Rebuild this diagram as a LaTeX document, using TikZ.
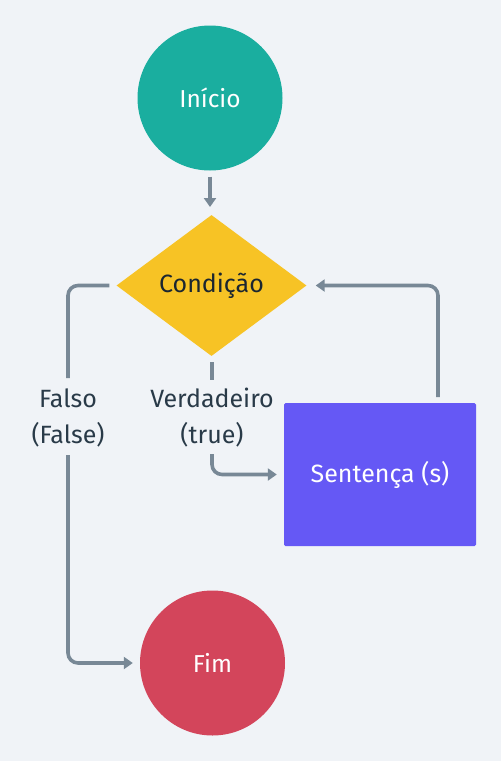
\documentclass[tikz,border=0pt]{standalone}
\usepackage{fontspec}
\setmainfont{Fira Sans}
\usetikzlibrary{shapes.geometric,arrows.meta}
\definecolor{bg}{HTML}{F0F3F7}
\definecolor{cteal}{HTML}{1AAE9F}
\definecolor{cyellow}{HTML}{F7C325}
\definecolor{cpurple}{HTML}{6558F5}
\definecolor{cred}{HTML}{D3455B}
\definecolor{cline}{HTML}{788896}
\definecolor{ctext}{HTML}{1B2630}
\definecolor{clabel}{HTML}{293A48}
\tikzset{
  x=1pt,y=-1pt,
  term/.style={circle,minimum size=145pt,inner sep=0pt,text=white,font=\fontsize{24.5}{28}\selectfont},
  decision/.style={diamond,fill=cyellow,minimum width=190pt,minimum height=141pt,inner sep=0pt,aspect=1.35,text=ctext,font=\fontsize{25}{28}\selectfont},
  process/.style={rectangle,fill=cpurple,minimum width=192pt,minimum height=143pt,text=white,rounded corners=1.5pt,font=\fontsize{25}{28}\selectfont},
  lbl/.style={align=center,text=clabel,font=\fontsize{25}{36}\selectfont,inner sep=0pt},
  conn/.style={draw=cline,line width=3.6pt,rounded corners=10pt},
  arr/.style={conn,-{Triangle[length=9pt,width=12pt]}},
}
\begin{document}
\begin{tikzpicture}
\fill[bg] (0,0) rectangle (501,761);
\useasboundingbox (0,0) rectangle (501,761);
\node[term,fill=cteal] (inicio) at (210,98) {Início};
\node[decision] (cond) at (211.5,285.5) {Condição};
\node[process] (sent) at (380,474.5) {Sentença (s)};
\node[term,fill=cred] (fim) at (212.5,663) {Fim};
\node[lbl] (falso) at (68,418) {Falso\\(False)};
\node[lbl] (verd) at (212,418) {Verdadeiro\\(true)};
\coordinate (fa1) at (68,378);
\coordinate (fa2) at (68,455);
\coordinate (ve0) at (212,362);
\coordinate (ve1) at (212,380);
\coordinate (ve2) at (212,454);
\coordinate (ret) at (438,397);
\draw[arr] (inicio.south) ++(0,6) -- (210,207);
\draw[conn,shorten <=7pt] (cond.west) -| (fa1);
\draw[arr] (fa2) |- ([xshift=-7pt]fim.west);
\draw[conn] (ve0) -- (ve1);
\draw[arr] (ve2) |- ([xshift=-7pt,yshift=0pt]sent.west);
\draw[arr] (ret) |- ([xshift=9pt]cond.east);
\end{tikzpicture}
\end{document}
